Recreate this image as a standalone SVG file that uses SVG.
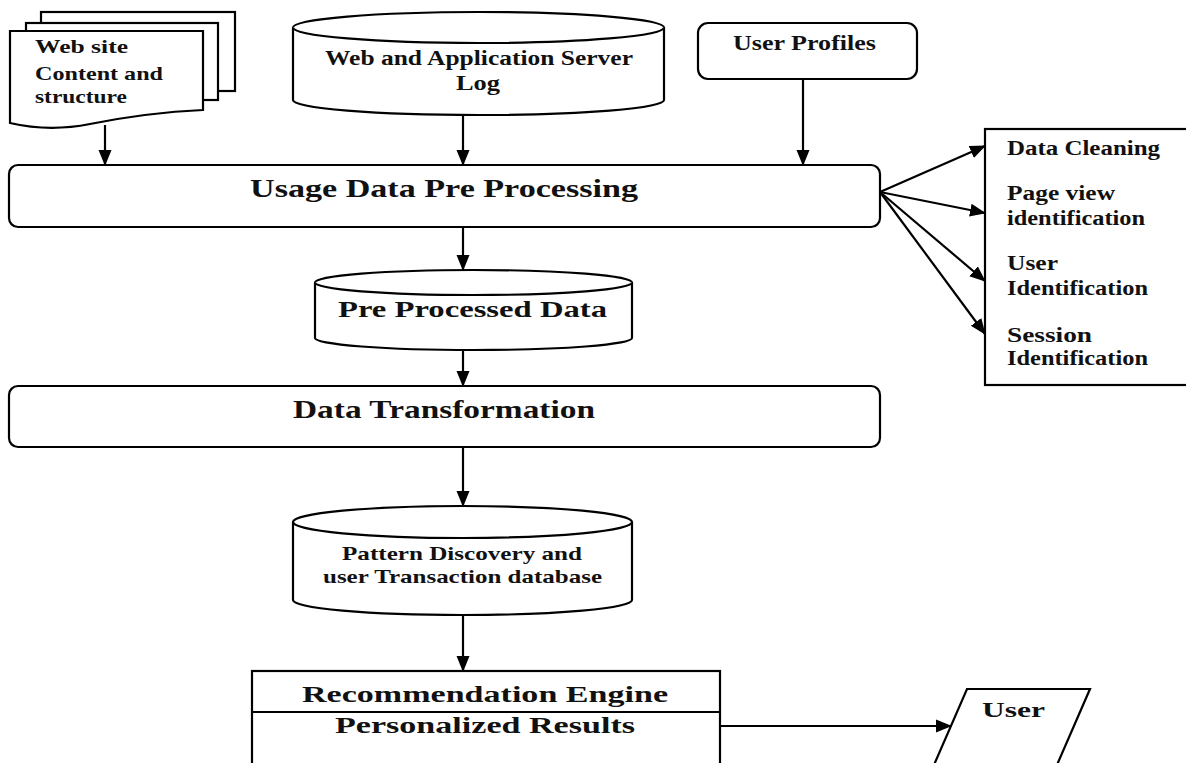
<svg xmlns="http://www.w3.org/2000/svg" width="1186" height="763" viewBox="0 0 1186 763">
<style>
.s{fill:#fff;stroke:#000;stroke-width:2.2}
.t{font-family:"Liberation Serif","Times New Roman",serif;font-weight:bold;fill:#111}
.c{stroke:#000;stroke-width:2.2;fill:none;marker-end:url(#ah)}
</style>
<defs>
<marker id="ah" markerUnits="userSpaceOnUse" markerWidth="16" markerHeight="16" viewBox="0 0 16 16" refX="15" refY="8" orient="auto">
<path d="M0,1.5 L16,8 L0,14.5 Z" fill="#000"/>
</marker>
</defs>
<rect width="1186" height="763" fill="#fff"/>

<g id="website">
<rect class="s" x="41" y="12" width="194" height="79"/>
<rect class="s" x="26" y="23" width="192" height="77"/>
<path class="s" d="M10,31 H203 V110 C160,112 120,118 90,124 C70,128 40,130 10,123 Z"/>
<text class="t" font-size="19" x="35" y="53" textLength="93" lengthAdjust="spacingAndGlyphs">Web site</text>
<text class="t" font-size="19" x="35" y="80" textLength="128" lengthAdjust="spacingAndGlyphs">Content and</text>
<text class="t" font-size="19" x="35" y="103" textLength="92" lengthAdjust="spacingAndGlyphs">structure</text>
</g>

<g id="serverlog">
<path class="s" d="M293,27.5 V100 A185.5,15 0 0 0 664,100 V27.5 A185.5,15.5 0 0 0 293,27.5 Z"/>
<path class="s" fill="none" d="M293,27.5 A185.5,15.5 0 0 0 664,27.5"/>
<text class="t" font-size="20" x="325" y="65" textLength="308" lengthAdjust="spacingAndGlyphs">Web and Application Server</text>
<text class="t" font-size="20" x="456" y="90" textLength="44" lengthAdjust="spacingAndGlyphs">Log</text>
</g>

<g id="userprofiles">
<rect class="s" x="698" y="23" width="219" height="56" rx="10"/>
<text class="t" font-size="20" x="733" y="50" textLength="143" lengthAdjust="spacingAndGlyphs">User Profiles</text>
</g>

<g id="usage">
<rect class="s" x="9" y="165" width="871" height="62" rx="9"/>
<text class="t" font-size="25" x="250" y="197" textLength="388" lengthAdjust="spacingAndGlyphs">Usage Data Pre Processing</text>
</g>

<g id="steps">
<rect class="s" x="985" y="129" width="215" height="256"/>
<text class="t" font-size="20" x="1007" y="155" textLength="153" lengthAdjust="spacingAndGlyphs">Data Cleaning</text>
<text class="t" font-size="20" x="1007" y="200" textLength="108" lengthAdjust="spacingAndGlyphs">Page view</text>
<text class="t" font-size="20" x="1007" y="225" textLength="138" lengthAdjust="spacingAndGlyphs">identification</text>
<text class="t" font-size="20" x="1007" y="270" textLength="51" lengthAdjust="spacingAndGlyphs">User</text>
<text class="t" font-size="20" x="1007" y="295" textLength="141" lengthAdjust="spacingAndGlyphs">Identification</text>
<text class="t" font-size="20" x="1007" y="342" textLength="85" lengthAdjust="spacingAndGlyphs">Session</text>
<text class="t" font-size="20" x="1007" y="365" textLength="141" lengthAdjust="spacingAndGlyphs">Identification</text>
</g>

<g id="preprocessed">
<path class="s" d="M315,282.5 V338 A158.5,12 0 0 0 632,338 V282.5 A158.5,12.5 0 0 0 315,282.5 Z"/>
<path class="s" fill="none" d="M315,282.5 A158.5,12.5 0 0 0 632,282.5"/>
<text class="t" font-size="24" x="338" y="317" textLength="269" lengthAdjust="spacingAndGlyphs">Pre Processed Data</text>
</g>

<g id="transformation">
<rect class="s" x="9" y="386" width="871" height="61" rx="9"/>
<text class="t" font-size="25" x="293" y="418" textLength="302" lengthAdjust="spacingAndGlyphs">Data Transformation</text>
</g>

<g id="pattern">
<path class="s" d="M293,522 V600 A169.5,15 0 0 0 632,600 V522 A169.5,16 0 0 0 293,522 Z"/>
<path class="s" fill="none" d="M293,522 A169.5,16 0 0 0 632,522"/>
<text class="t" font-size="19" x="342" y="560" textLength="240" lengthAdjust="spacingAndGlyphs">Pattern Discovery and</text>
<text class="t" font-size="19" x="323" y="583" textLength="279" lengthAdjust="spacingAndGlyphs">user Transaction database</text>
</g>

<g id="recommendation">
<rect class="s" x="252" y="671" width="468" height="110"/>
<line x1="252" y1="712" x2="720" y2="712" stroke="#000" stroke-width="2.2"/>
<text class="t" font-size="23" x="302" y="702" textLength="366" lengthAdjust="spacingAndGlyphs">Recommendation Engine</text>
<text class="t" font-size="23" x="335" y="733" textLength="300" lengthAdjust="spacingAndGlyphs">Personalized Results</text>
</g>

<g id="user">
<path class="s" d="M967,689 H1090 L1050,781 H927 Z"/>
<text class="t" font-size="22" x="982" y="717" textLength="63" lengthAdjust="spacingAndGlyphs">User</text>
</g>

<g id="connectors">
<line class="c" x1="105" y1="125" x2="105" y2="165"/>
<line class="c" x1="463" y1="115" x2="463" y2="165"/>
<line class="c" x1="803" y1="79" x2="803" y2="165"/>
<line class="c" x1="880" y1="192" x2="985" y2="146"/>
<line class="c" x1="880" y1="192" x2="985" y2="213"/>
<line class="c" x1="880" y1="192" x2="985" y2="281"/>
<line class="c" x1="880" y1="192" x2="985" y2="334"/>
<line class="c" x1="463" y1="227" x2="463" y2="270"/>
<line class="c" x1="463" y1="350" x2="463" y2="386"/>
<line class="c" x1="463" y1="447" x2="463" y2="506"/>
<line class="c" x1="463" y1="615" x2="463" y2="671"/>
<line class="c" x1="720" y1="726" x2="951" y2="726"/>
</g>
</svg>
